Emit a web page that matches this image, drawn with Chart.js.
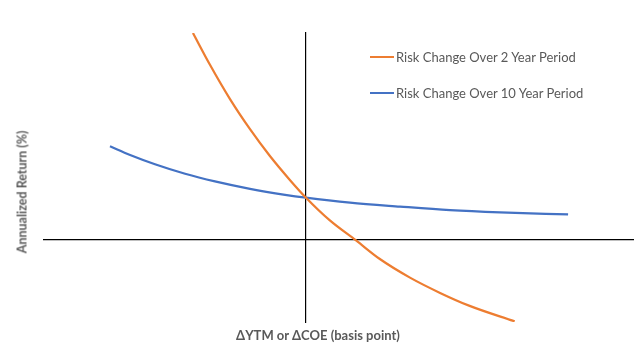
<!DOCTYPE html>
<html>
<head>
<meta charset="utf-8">
<script src="https://cdn.jsdelivr.net/npm/chart.js@4/dist/chart.umd.min.js"></script>
<style>
  html, body { margin: 0; padding: 0; background: #fff; }
  #wrap { position: relative; width: 644px; height: 354px; font-family: Lato, "Open Sans", sans-serif; color: #595959; }
  #chart { position: absolute; left: 0; top: 0; }
  .y-title { position: absolute; left: 22px; top: 192px; transform: translate(-50%, -50%) rotate(-90deg); font-weight: bold; font-size: 12.5px; white-space: nowrap; }
  .x-title { position: absolute; left: 318px; top: 335px; transform: translate(-50%, -50%); font-weight: bold; font-size: 13px; white-space: nowrap; }
  #legend { position: absolute; left: 370px; top: 48px; font-size: 13px; }
  .leg-item { display: flex; align-items: center; height: 18px; margin-bottom: 18px; white-space: nowrap; }
  .leg-line { width: 24px; height: 2px; margin-right: 2px; }
</style>
</head>
<body>
<div id="wrap">
  <canvas id="chart" width="644" height="354"></canvas>
  <div class="y-title">Annualized Return (%)</div>
  <div class="x-title">ΔYTM or ΔCOE (basis point)</div>
  <div id="legend"></div>
</div>
<script>
// change in yield / cost of equity (basis points) and resulting return (%)
const shortX = [-43.1, -36.6, -29.0, -21.3, -13.7, -6.0, 0, 9.2, 19.2, 28.3, 39.8, 51.3, 62.6, 79.8];
const shortY = [10.0, 8.46, 6.81, 5.34, 4.04, 2.87, 2.03, 0.92, -0.05, -0.95, -1.85, -2.59, -3.22, -3.97];
const longX = [-74.8, -67.1, -57.6, -46.1, -34.7, -21.3, -7.9, 0, 16.9, 36, 55.1, 74.2, 100.2];
const longY = [4.51, 4.09, 3.64, 3.18, 2.81, 2.45, 2.16, 2.02, 1.78, 1.59, 1.42, 1.31, 1.21];
const seriesNames = ["Risk Change Over 2 Year Period", "Risk Change Over 10 Year Period"];
const seriesColors = ["#ED7D31", "#4472C4"];

const toPoints = (xs, ys) => xs.map((x, i) => ({ x, y: ys[i] }));

new Chart(document.getElementById("chart"), {
  type: "scatter",
  data: {
    datasets: [
      { label: seriesNames[0], data: toPoints(shortX, shortY), borderColor: seriesColors[0], showLine: true, pointRadius: 0, borderWidth: 2.25, cubicInterpolationMode: "monotone" },
      { label: seriesNames[1], data: toPoints(longX, longY), borderColor: seriesColors[1], showLine: true, pointRadius: 0, borderWidth: 2.25, cubicInterpolationMode: "monotone" },
    ],
  },
  options: {
    responsive: false,
    animation: false,
    layout: { padding: { left: 44, right: 11, top: 33, bottom: 32 } },
    plugins: { legend: { display: false }, tooltip: { enabled: false } },
    scales: {
      x: { type: "linear", min: -100, max: 125, position: { y: 0 }, grid: { display: false }, ticks: { display: false }, border: { color: "#000", width: 1.2 } },
      y: { type: "linear", min: -4, max: 10, position: { x: 0 }, grid: { display: false }, ticks: { display: false }, border: { color: "#000", width: 1.2 } },
    },
  },
});

document.getElementById("legend").innerHTML = seriesNames.map((name, i) => `
  <div class="leg-item"><span class="leg-line" style="background:${seriesColors[i]}"></span>${name}</div>`).join("");
</script>
</body>
</html>
